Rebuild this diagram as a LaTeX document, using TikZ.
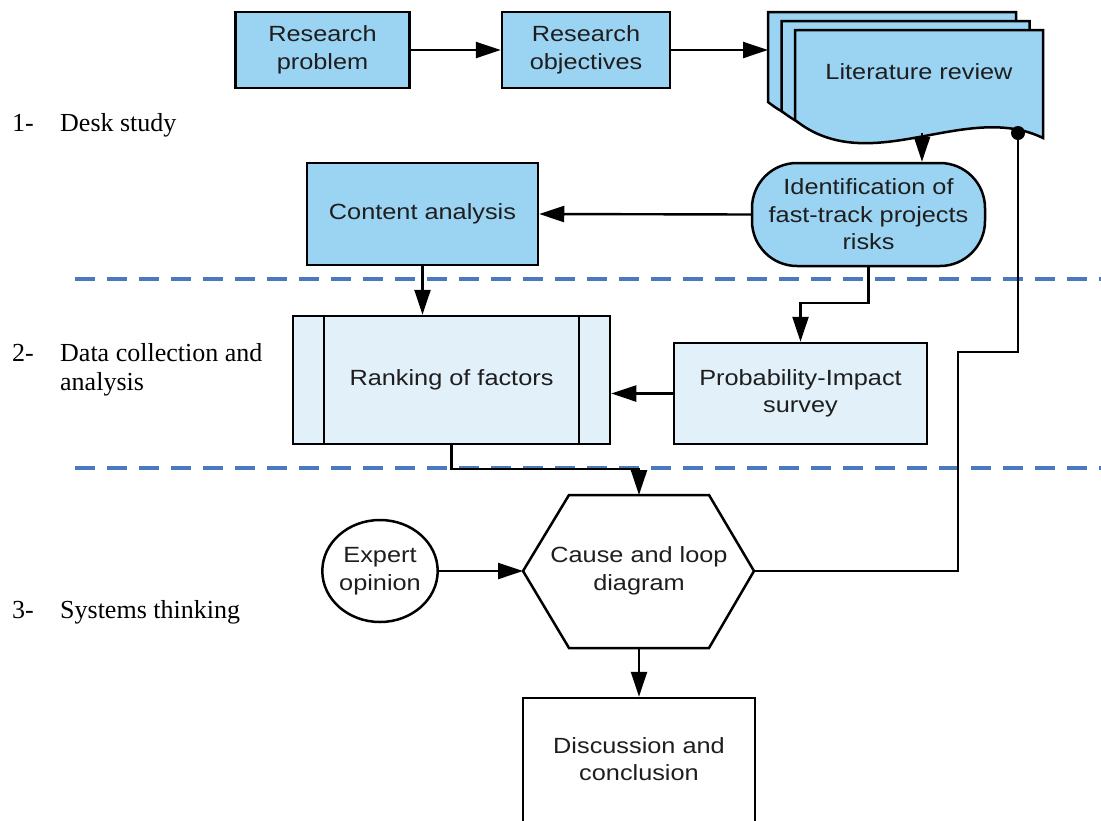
\documentclass[tikz,border=0pt]{standalone}
\usepackage{fontspec}
\setmainfont{Liberation Serif}
\setsansfont[FakeStretch=1.15]{Liberation Sans}
\usetikzlibrary{arrows.meta,shapes.geometric,calc}
\definecolor{boxblue}{RGB}{155,211,242}
\definecolor{boxlight}{RGB}{226,240,250}
\definecolor{dashblue}{RGB}{74,122,190}
\definecolor{txt}{RGB}{30,30,30}
\tikzset{
  box/.style={draw=black, line width=2.5pt, align=center, text=txt,
    font=\sffamily\fontsize{22}{27.5}\selectfont, inner sep=0pt},
  darkbox/.style={box, fill=boxblue},
  lightbox/.style={box, fill=boxlight},
  conn/.style={line width=2.4pt, draw=black},
  arr/.style={conn, -{Triangle[length=25pt,width=16pt]}},
  sep/.style={draw=dashblue, line width=3.5pt, dash pattern=on 20pt off 12pt},
  lbl/.style={font=\rmfamily\fontsize{26}{29}\selectfont, inner sep=0pt, anchor=base west},
  docsheet/.style={draw=black, line width=2.5pt, fill=boxblue, line join=miter}
}
\begin{document}
\begin{tikzpicture}[x=1pt,y=-1pt]
\useasboundingbox (0,0) rectangle (1101,820);

% separators
\draw[sep] (75,279) -- (1101,279);
\draw[sep] (75,468) -- (1101,468);

% left labels
\node[lbl] (n1) at (12,131) {1-};
\node[lbl] (l1) at (60,131) {Desk study};
\node[lbl] (n2) at (12,361) {2-};
\node[lbl] (l2a) at (60,361) {Data collection and};
\node[lbl] (l2b) at (60,390) {analysis};
\node[lbl] (n3) at (12,618) {3-};
\node[lbl] (l3) at (60,618) {Systems thinking};

% top row
\node[darkbox, minimum width=174pt, minimum height=76pt] (rp) at (322.5,50) {Research\\problem};
\node[darkbox, minimum width=168pt, minimum height=76pt] (ro) at (586,50) {Research\\objectives};

% literature review stack
\foreach \dx/\dy in {-27/-18, -13.5/-9, 0/0} {
  \draw[docsheet, shift={(\dx,\dy)}] (795,30) -- (1043,30) -- (1043,138)
    .. controls (965,100) and (870,180) .. (795,120) -- cycle;
}
\node[box, draw=none] (lit) at (919,72) {Literature review};
\coordinate (litin) at (768,50);
\coordinate (litb) at (922,133);
\coordinate (litdot) at (1018,133);

% second row
\node[darkbox, minimum width=233pt, minimum height=103pt, rounded corners=45pt] (ident) at (868.5,214.5) {Identification of\\fast-track projects\\risks};
\node[darkbox, minimum width=231pt, minimum height=102pt] (content) at (422.5,214) {Content analysis};

% third row
\node[lightbox, minimum width=317pt, minimum height=128pt] (rank) at (451.5,380) {Ranking of factors};
\draw[conn] ([xshift=32pt]rank.north west) -- ([xshift=32pt]rank.south west);
\draw[conn] ([xshift=-32pt]rank.north east) -- ([xshift=-32pt]rank.south east);
\node[lightbox, minimum width=253pt, minimum height=101pt] (prob) at (800.5,393.5) {Probability-Impact\\survey};

% hexagon
\coordinate (hexL) at (523,571);
\coordinate (hexR) at (754,571);
\coordinate (hexT) at (639,495);
\coordinate (hexB) at (639,648);
\draw[conn, line width=2.5pt, line join=miter, fill=white] (hexL) -- (569,495) -- (709,495) -- (hexR) -- (709,648) -- (569,648) -- cycle;
\node[box, draw=none] (hex) at (639,571) {Cause and loop\\diagram};

\node[box, ellipse, minimum width=114pt, minimum height=102pt] (expert) at (380,571) {Expert\\opinion};

% bottom box
\node[box, minimum width=232pt, minimum height=142pt] (disc) at (639,769) {};
\node[box, draw=none] (disctext) at (639,759) {Discussion and\\conclusion};

% connectors
\draw[arr] (rp.east) -- (ro.west);
\draw[arr] (ro.east) -- (litin);
\draw[arr] (litb) -- (litb |- ident.north);
\draw[arr] (ident.west) -- (content.east);
\draw[arr] (content.south) -- (content.south |- rank.north);
\draw[arr] (ident.south) -- ++(0,36) -| (prob.north);
\draw[arr] (prob.west) -- (prob.west -| rank.east);
\draw[arr] (rank.south) -- ++(0,24) -| (hexT);
\draw[arr] (expert.east) -- (hexL);
\draw[arr] (hexB) -- (disc.north);
\draw[conn] (hexR) -- (958,571) -- (958,352) -- (1018,352) -- (litdot);
\fill (litdot) circle (7pt);
\end{tikzpicture}
\end{document}
